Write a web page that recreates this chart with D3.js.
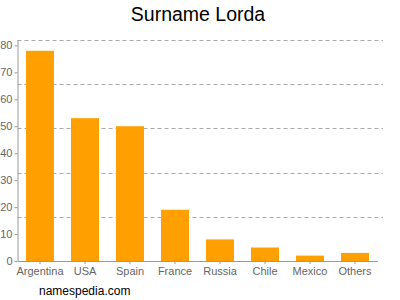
<!DOCTYPE html>
<html>
<head>
<meta charset="utf-8">
<script src="https://cdn.jsdelivr.net/npm/d3@7"></script>
<style>
  body { margin: 0; background: #fff; }
  svg { font-family: "Liberation Sans", Arial, sans-serif; }
</style>
</head>
<body>
<div class="chart"></div>
<script>
// data
var countries = ["Argentina", "USA", "Spain", "France", "Russia", "Chile", "Mexico", "Others"];
var counts = [78, 53, 50, 19, 8, 5, 2, 3];
var yTicks = [0, 10, 20, 30, 40, 50, 60, 70, 80];
var yMax = 82;

var outerWidth = 400,
    outerHeight = 300,
    margin = {top: 40, right: 23, bottom: 39, left: 17.5},
    width = outerWidth - margin.left - margin.right,
    height = outerHeight - margin.top - margin.bottom;

var svg = d3.select(".chart").append("svg")
    .attr("width", outerWidth)
    .attr("height", outerHeight);

svg.append("text")
    .attr("x", outerWidth / 2 - 2)
    .attr("y", 21)
    .attr("text-anchor", "middle")
    .style("font-size", "19.5px")
    .style("fill", "#000")
    .text("Surname Lorda");

svg.append("text")
    .attr("x", 39)
    .attr("y", 295)
    .style("font-size", "12px")
    .style("fill", "#000")
    .text("namespedia.com");

var g = svg.append("g")
    .attr("transform", "translate(" + margin.left + "," + margin.top + ")");

var x = d3.scaleBand()
    .domain(countries)
    .range([0, 360])
    .paddingInner(0.378)
    .paddingOuter(0.189);

var y = d3.scaleLinear()
    .domain([0, yMax])
    .range([height, 0]);

// dashed grid, five equal steps up to the top
var grid = d3.range(1, 6).map(function(i){ return yMax * i / 5; });
g.selectAll(".grid")
    .data(grid)
  .enter().append("line")
    .attr("class", "grid")
    .attr("x1", 0)
    .attr("x2", width + 6)
    .attr("y1", function(d){ return Math.round(y(d)) + 0.5; })
    .attr("y2", function(d){ return Math.round(y(d)) + 0.5; })
    .style("stroke", "#aaa")
    .style("stroke-dasharray", "4,3");

g.selectAll(".bar")
    .data(counts)
  .enter().append("rect")
    .attr("class", "bar")
    .attr("x", function(d, i){ return x(countries[i]); })
    .attr("width", x.bandwidth())
    .attr("y", function(d){ return y(d); })
    .attr("height", function(d){ return height - y(d); })
    .style("fill", "#ffa000");

var yAxis = d3.axisLeft(y)
    .tickValues(yTicks)
    .tickSize(3)
    .tickPadding(2);

var xAxis = d3.axisBottom(x)
    .tickSize(3)
    .tickPadding(3)
    .tickSizeOuter(0);

var ya = g.append("g").call(yAxis);
ya.select(".domain").attr("d", "M0.5,0V" + height);

var xa = g.append("g")
    .attr("transform", "translate(0," + height + ")")
    .call(xAxis);

[ya, xa].forEach(function(a){
  a.selectAll("path, line").style("stroke", "#999");
  a.selectAll("text")
    .style("fill", "#666")
    .style("font-size", "11px")
    .style("font-family", "\"Liberation Sans\", Arial, sans-serif");
});
</script>
</body>
</html>
